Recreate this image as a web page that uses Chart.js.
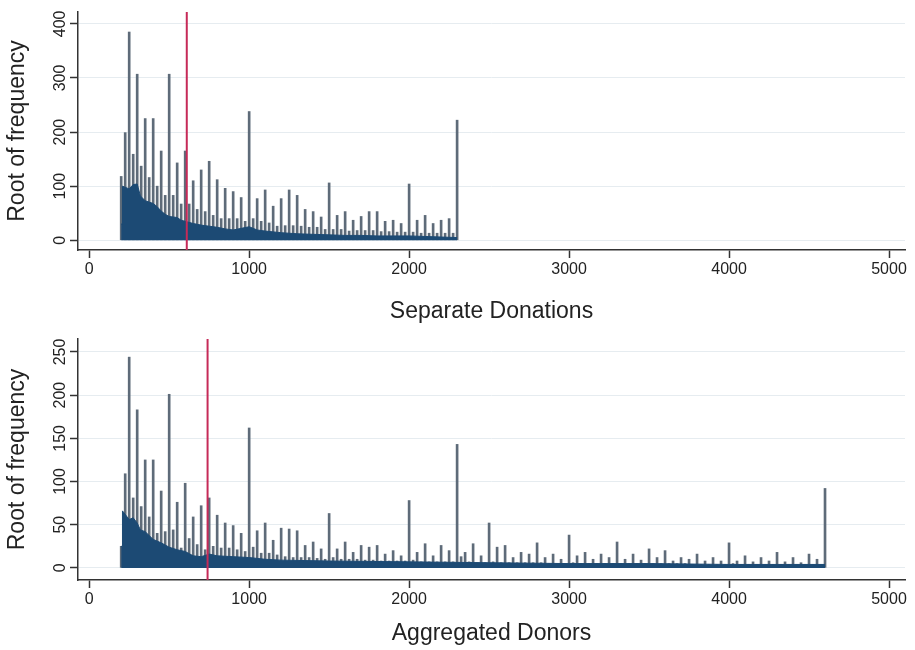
<!DOCTYPE html>
<html>
<head>
<meta charset="utf-8">
<script src="https://cdn.jsdelivr.net/npm/chart.js@4.4.1/dist/chart.umd.min.js"></script>
<style>
  body { margin: 0; background: #fff; }
  canvas { display: block; }
</style>
</head>
<body>
<canvas id="separateDonations" width="915" height="325"></canvas>
<canvas id="aggregatedDonors" width="915" height="325"></canvas>
<script>
// x tick labels shared by both panels
const xTicks = [0, 1000, 2000, 3000, 4000, 5000];

// --- Separate Donations ---
const separateAmounts = [
  200, 225, 250, 275, 300, 325, 350, 375, 400, 425, 450, 475, 500, 525, 550, 575,
  600, 625, 650, 675, 700, 725, 750, 775, 800, 825, 850, 875, 900, 925, 950, 975,
  1000, 1025, 1050, 1075, 1100, 1125, 1150, 1175, 1200, 1225, 1250, 1275, 1300, 1325, 1350, 1375,
  1400, 1425, 1450, 1475, 1500, 1525, 1550, 1575, 1600, 1625, 1650, 1675, 1700, 1725, 1750, 1775,
  1800, 1825, 1850, 1875, 1900, 1925, 1950, 1975, 2000, 2025, 2050, 2075, 2100, 2125, 2150, 2175,
  2200, 2225, 2250, 2275, 2300
];
const separateRootFreq = [
  118, 199, 385, 159, 307, 137, 225, 116, 225, 100, 165, 83, 307, 83, 143, 67,
  165, 67, 110, 57, 130, 53, 146, 46, 112, 40, 96, 40, 90, 40, 79, 35,
  238, 40, 77, 35, 93, 32, 63, 26, 77, 27, 93, 27, 83, 26, 57, 24,
  53, 24, 43, 20, 106, 20, 46, 20, 53, 17, 37, 18, 44, 18, 53, 18,
  53, 16, 35, 16, 37, 15, 31, 15, 104, 15, 37, 13, 46, 13, 31, 13,
  37, 13, 40, 13, 222
];
// dense body of the histogram (values between the round-number spikes)
const separateBodyX = [200, 207, 208, 250, 275, 300, 320, 350, 400, 425, 450, 475, 500, 525, 550, 575, 600, 650, 700, 750,
  800, 850, 900, 950, 1000, 1050, 1100, 1200, 1300, 1400, 1500, 1600, 1700, 1800, 1900, 2000, 2100, 2200, 2300];
const separateBodyY = [30, 30, 100, 95, 103, 104, 82, 73, 68, 62, 54, 48, 44, 43, 42, 37, 35, 31, 28, 26,
  24, 21, 19, 22, 25, 19, 17, 14, 12, 11, 10, 9, 9, 8, 8, 8, 7, 6, 5];
const separateMarker = 610;
const separateYTicks = [0, 100, 200, 300, 400];

// --- Aggregated Donors ---
const aggregatedAmounts = [
  200, 225, 250, 275, 300, 325, 350, 375, 400, 425, 450, 475, 500, 525, 550, 575,
  600, 625, 650, 675, 700, 725, 750, 775, 800, 825, 850, 875, 900, 925, 950, 975,
  1000, 1025, 1050, 1075, 1100, 1125, 1150, 1175, 1200, 1225, 1250, 1275, 1300, 1325, 1350, 1375,
  1400, 1425, 1450, 1475, 1500, 1525, 1550, 1575, 1600, 1625, 1650, 1675, 1700, 1725, 1750, 1775,
  1800, 1825, 1850, 1875, 1900, 1925, 1950, 1975,
  2000, 2025, 2050, 2075, 2100, 2125, 2150, 2175, 2200, 2225, 2250, 2275, 2300, 2325, 2350, 2375,
  2400, 2425, 2450, 2475, 2500, 2525, 2550, 2575, 2600, 2625, 2650, 2675, 2700, 2725, 2750, 2775,
  2800, 2825, 2850, 2875, 2900, 2925, 2950, 2975,
  3000, 3025, 3050, 3075, 3100, 3125, 3150, 3175, 3200, 3225, 3250, 3275, 3300, 3325, 3350, 3375,
  3400, 3425, 3450, 3475, 3500, 3525, 3550, 3575, 3600, 3625, 3650, 3675, 3700, 3725, 3750, 3775,
  3800, 3825, 3850, 3875, 3900, 3925, 3950, 3975,
  4000, 4025, 4050, 4075, 4100, 4125, 4150, 4175, 4200, 4225, 4250, 4275, 4300, 4325, 4350, 4375,
  4400, 4425, 4450, 4475, 4500, 4525, 4550, 4575, 4600
];
const aggregatedRootFreq = [
  25, 109, 244, 81, 183, 71, 125, 59, 125, 40, 89, 42, 201, 44, 76, 23,
  98, 34, 59, 27, 72, 21, 81, 25, 61, 23, 52, 23, 49, 21, 40, 19,
  162, 24, 43, 17, 52, 17, 32, 15, 46, 13, 45, 12, 43, 12, 26, 12,
  30, 11, 22, 10, 63, 12, 22, 10, 30, 10, 18, 10, 26, 9, 24, 9,
  26, 8, 16, 8, 20, 8, 14, 8,
  78, 9, 18, 7, 28, 7, 14, 7, 26, 7, 20, 7, 143, 13, 18, 7,
  28, 6, 14, 6, 52, 7, 24, 6, 26, 6, 12, 6, 18, 6, 16, 6,
  29, 6, 12, 5, 16, 5, 10, 5,
  38, 6, 14, 5, 18, 5, 10, 5, 16, 5, 12, 5, 30, 5, 10, 5,
  16, 5, 9, 5, 22, 5, 12, 5, 20, 5, 8, 5, 12, 5, 10, 4,
  16, 4, 8, 4, 12, 4, 8, 4,
  29, 5, 8, 4, 14, 4, 7, 4, 12, 4, 8, 4, 18, 4, 7, 4,
  12, 4, 6, 4, 16, 4, 10, 4, 92
];
const aggregatedBodyX = [200, 207, 208, 250, 275, 300, 320, 350, 400, 450, 500, 550, 600, 650, 700, 750, 800, 900, 1000, 1100,
  1200, 1500, 2000, 2500, 3000, 3500, 4000, 4600];
const aggregatedBodyY = [25, 25, 66, 56, 58, 52, 44, 42, 33, 29, 24, 21, 19, 14, 13, 16, 14, 13, 12, 10,
  9, 8, 7, 6, 5, 5, 4, 4];
const aggregatedMarker = 740;
const aggregatedYTicks = [0, 50, 100, 150, 200, 250];

const FONT = '"Liberation Sans", Arial, sans-serif';

// y tick labels are drawn turned on their side, like the original
const rotatedYTicks = {
  id: 'rotatedYTicks',
  afterDraw(chart) {
    const yScale = chart.scales.y;
    const ctx = chart.ctx;
    ctx.save();
    ctx.font = '16px ' + FONT;
    ctx.fillStyle = '#222';
    ctx.textAlign = 'center';
    ctx.textBaseline = 'middle';
    yScale.ticks.forEach((tick, i) => {
      ctx.save();
      ctx.translate(61, yScale.getPixelForTick(i));
      ctx.rotate(-Math.PI / 2);
      ctx.fillText(tick.label, 0, 0);
      ctx.restore();
    });
    ctx.restore();
  }
};

function criarPainel(canvasId, amounts, rootFreq, bodyX, bodyY, marker, yTicks, yMin, yMax, xTitle, topPad, xHeight, titlePad) {
  const ctx = document.getElementById(canvasId).getContext('2d');
  new Chart(ctx, {
    type: 'bar',
    data: {
      datasets: [
        {
          type: 'line',
          data: [{ x: marker, y: yMin }, { x: marker, y: yMax }],
          borderColor: '#c62a58',
          borderWidth: 2,
          pointRadius: 0,
          order: 0
        },
        {
          type: 'line',
          data: bodyX.map((x, i) => ({ x: x, y: bodyY[i] })),
          borderColor: '#1c4a74',
          backgroundColor: '#1c4a74',
          borderWidth: 1,
          pointRadius: 0,
          tension: 0,
          fill: 'origin',
          order: 1
        },
        {
          type: 'bar',
          data: amounts.map((x, i) => ({ x: x, y: rootFreq[i] })),
          backgroundColor: '#5e6b79',
          barThickness: 2,
          order: 2
        }
      ]
    },
    options: {
      responsive: false,
      animation: false,
      devicePixelRatio: 1,
      layout: { padding: { top: topPad, right: 10, left: 0, bottom: 0 } },
      plugins: { legend: { display: false }, tooltip: { enabled: false } },
      scales: {
        x: {
          type: 'linear',
          min: -70,
          max: 5100,
          offset: false,
          afterBuildTicks: (scale) => { scale.ticks = xTicks.map(v => ({ value: v })); },
          afterFit: (scale) => { scale.height = xHeight; },
          grid: { offset: false, drawOnChartArea: false, drawTicks: true, tickLength: 8, tickColor: '#333', tickWidth: 1.5 },
          border: { display: true, color: '#333', width: 1.5 },
          ticks: { color: '#222', font: { family: FONT, size: 16 }, padding: 2, maxRotation: 0, callback: (v) => String(v) },
          title: { display: true, text: xTitle, color: '#222', font: { family: FONT, size: 23 }, padding: { top: 0, bottom: titlePad } }
        },
        y: {
          min: yMin,
          max: yMax,
          afterBuildTicks: (scale) => { scale.ticks = yTicks.map(v => ({ value: v })); },
          afterFit: (scale) => { scale.width = 78; },
          grid: { color: '#e6ecf0', lineWidth: 1, drawTicks: true, tickLength: 8, tickColor: '#333', tickWidth: 1.5 },
          border: { display: true, color: '#333', width: 1.5 },
          ticks: { color: 'rgba(0,0,0,0)', font: { family: FONT, size: 14 }, callback: (v) => String(v) },
          title: { display: true, text: 'Root of frequency', color: '#222', font: { family: FONT, size: 23 }, padding: { top: 4, bottom: 0 } }
        }
      }
    },
    plugins: [rotatedYTicks]
  });
}

criarPainel('separateDonations', separateAmounts, separateRootFreq, separateBodyX, separateBodyY,
  separateMarker, separateYTicks, -18, 422, 'Separate Donations', 12, 75, 0);
criarPainel('aggregatedDonors', aggregatedAmounts, aggregatedRootFreq, aggregatedBodyX, aggregatedBodyY,
  aggregatedMarker, aggregatedYTicks, -14, 265, 'Aggregated Donors', 14, 70, 3);
</script>
</body>
</html>
